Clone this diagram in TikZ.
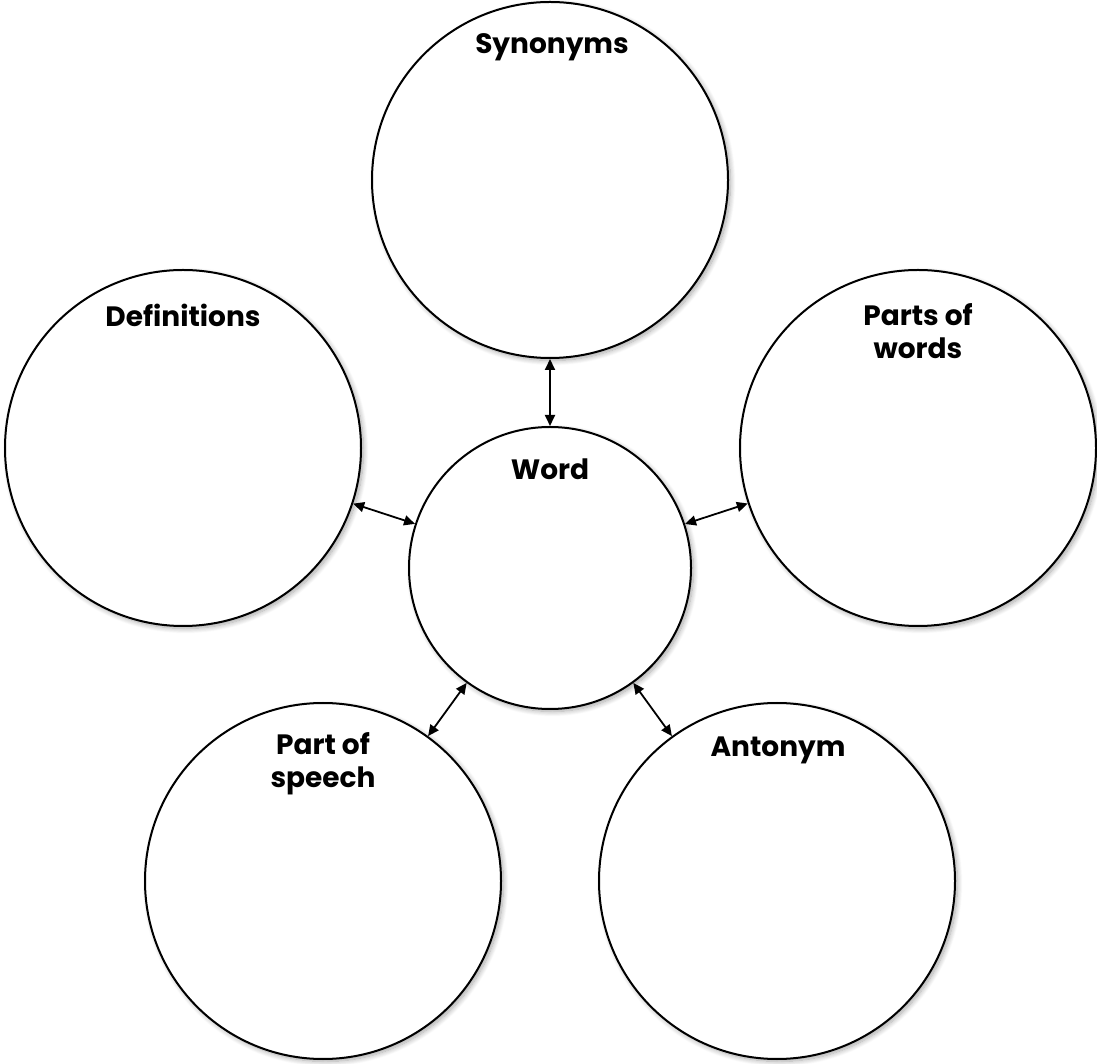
\documentclass[tikz,border=0pt]{standalone}
\usepackage{fontspec}
\setmainfont{Poppins}[BoldFont={* Bold}]
\usetikzlibrary{arrows.meta,shadows.blur}
\begin{document}
\begin{tikzpicture}[x=1pt,y=1pt,
  bubble/.style={circle,draw=black,line width=2pt,fill=white,inner sep=0pt,
    blur shadow={shadow xshift=2.5pt,shadow yshift=-2.5pt,shadow blur radius=5pt,shadow blur steps=10,shadow opacity=35}},
  big/.style={bubble,minimum size=356pt},
  small/.style={bubble,minimum size=282pt},
  lbl/.style={font=\fontsize{28}{33}\selectfont\bfseries,align=center,inner sep=0pt},
  link/.style={{Triangle[length=11pt,width=10pt]}-{Triangle[length=11pt,width=10pt]},line width=1.8pt}]
\useasboundingbox (0,0) rectangle (1097,1063);
\node[big] (syn) at (550,883) {};
\node[big] (def) at (183,615) {};
\node[big] (pow) at (918,615) {};
\node[small] (word) at (550,495) {};
\node[big] (pos) at (323,182) {};
\node[big] (ant) at (777,182) {};
\node[lbl] (tsyn) at (552,1016) {Synonyms};
\node[lbl] (tdef) at (183,748) {Definitions};
\node[lbl] (tpow) at (918,732) {Parts of\\words};
\node[lbl] (tword) at (550,594) {Word};
\node[lbl] (tpos) at (323,299) {Part of\\speech};
\node[lbl] (tant) at (778,313) {Antonym};
\draw[link] (syn) -- (word);
\draw[link] (def) -- (word);
\draw[link] (pow) -- (word);
\draw[link] (pos) -- (word);
\draw[link] (ant) -- (word);
\end{tikzpicture}
\end{document}
